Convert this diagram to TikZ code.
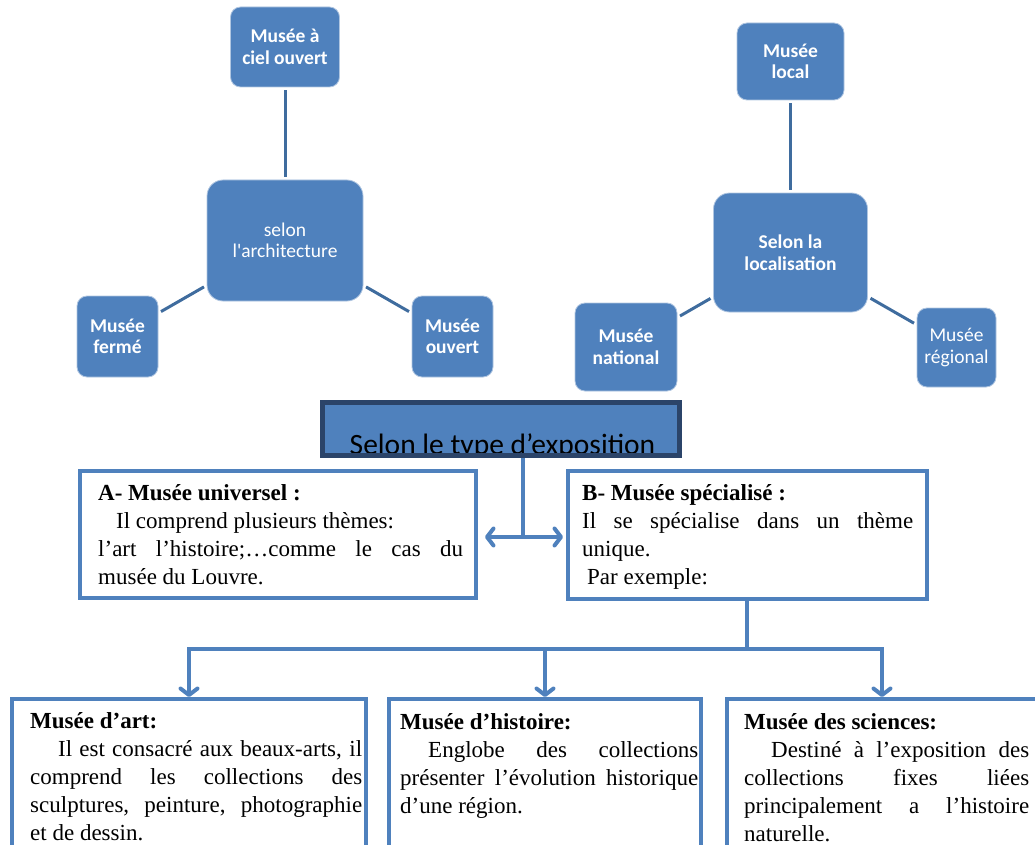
\documentclass[tikz,border=0pt]{standalone}
\usepackage{fontspec}
\setmainfont{Liberation Serif}
\newfontfamily\calfont{Carlito}
\usetikzlibrary{arrows.meta}

\definecolor{accent}{HTML}{4F81BD}
\definecolor{spokec}{HTML}{3F6C9E}
\definecolor{navy}{HTML}{2B4469}

\tikzset{
  tile/.style={fill=accent, draw=white!55!accent, line width=0.8pt, text=white,
    align=center, inner sep=0pt, rounded corners=10pt,
    font=\calfont\fontsize{19.5pt}{21.5pt}\selectfont\bfseries},
  plaintile/.style={tile, font=\calfont\fontsize{19.5pt}{21.5pt}\selectfont},
  hubtile/.style={tile, rounded corners=16pt},
  plainhub/.style={plaintile, rounded corners=16pt},
  spoke/.style={draw=spokec, line width=3pt, shorten <=3pt, shorten >=3pt},
  titlebox/.style={fill=accent, draw=navy, line width=5pt, inner sep=0pt},
  panel/.style={draw=accent, line width=4pt, fill=white, inner sep=0pt},
  flow/.style={draw=accent, line width=4pt, line join=miter,
    >={Straight Barb[length=6.5pt,width=17pt,round]}},
  % anchored on the baseline of the last line of the block
  txt/.style={anchor=base west, inner sep=0pt, align=left,
    font=\fontsize{23pt}{28pt}\selectfont},
}

\begin{document}
\begin{tikzpicture}[x=1pt,y=-1pt]
\useasboundingbox (0,0) rectangle (1035,845);
\clip (0,0) rectangle (1035,845);

% --- classification by architecture
\node[tile, minimum width=109pt, minimum height=80pt] (ciel) at (285,47) {Musée à\\ciel ouvert};
\node[plainhub, minimum width=156pt, minimum height=121pt] (archi) at (285,240.5) {selon\\l'architecture};
\node[tile, minimum width=81pt, minimum height=81pt] (ferme) at (117.5,336.5) {Musée\\fermé};
\node[tile, minimum width=81pt, minimum height=81pt] (ouvert) at (452.5,336.5) {Musée\\ouvert};
\draw[spoke] (archi) -- (ciel);
\draw[spoke] (archi) -- (ferme);
\draw[spoke] (archi) -- (ouvert);

% --- classification by location
\node[tile, minimum width=107pt, minimum height=77pt] (local) at (790.5,61.5) {Musée\\local};
\node[hubtile, minimum width=154pt, minimum height=119pt] (loca) at (790.5,252.5) {Selon la\\localisation};
\node[tile, minimum width=102pt, minimum height=88pt] (natl) at (626,347) {Musée\\national};
\node[plaintile, minimum width=79pt, minimum height=79pt] (regl) at (956.5,347.5) {Musée\\régional};
\draw[spoke] (loca) -- (local);
\draw[spoke] (loca) -- (natl);
\draw[spoke] (loca) -- (regl);

% --- classification by type of exhibition (caption cut off by the box)
\node[titlebox, minimum width=357pt, minimum height=53pt] (title) at (501,429) {};
\begin{scope}
  \clip (325,405) rectangle (677,452);
  \node[anchor=base, inner sep=0pt, font=\calfont\fontsize{29.5pt}{31pt}\selectfont]
    (titletext) at (502.5,454) {Selon le type d’exposition};
\end{scope}

\node[panel, minimum width=396pt, minimum height=127pt] (A) at (278,534.5) {};
\node[panel, minimum width=359.5pt, minimum height=128pt] (B) at (747.25,535) {};

\coordinate (split) at (523,537);
\draw[flow] (title.south -| split) -- (split);
\draw[flow, <->, shorten <=7pt, shorten >=2.5pt] (A.east |- split) -- (B.west |- split);

\node[txt] (Atext) at (98,584) {\textbf{A- Musée universel :}\\
  \hspace*{18pt}Il comprend plusieurs thèmes:\\
  \makebox[365pt][s]{l’art l’histoire;…comme le cas du}\\
  musée du Louvre.};
\node[txt] (Btext) at (582,584) {\textbf{B- Musée spécialisé :}\\
  \makebox[331pt][s]{Il se spécialise dans un thème}\\
  unique.\\
  \hspace*{5pt}Par exemple:};

% --- specialised museums
\node[panel, minimum width=354pt, minimum height=181pt] (art) at (189,789.5) {};
\node[panel, minimum width=312pt, minimum height=181pt] (hist) at (545,789.5) {};
\node[panel, minimum width=310pt, minimum height=181pt] (sci) at (882,789.5) {};

\coordinate (hub) at (747.25,649);
\draw[flow] (B.south) -- (hub);
\draw[flow, ->] (hub) -| (art.north);
\draw[flow, ->] (hub) -| (hist.north);
\draw[flow, ->] (hub) -| (sci.north);

\node[txt] (arttext) at (30,840) {\textbf{Musée d’art:}\\
  \hspace*{28pt}\makebox[304pt][s]{Il est consacré aux beaux-arts, il}\\
  \makebox[332pt][s]{comprend les collections des}\\
  \makebox[332pt][s]{sculptures, peinture, photographie}\\
  et de dessin.};
\node[txt] (histtext) at (400,813) {\textbf{Musée d’histoire:}\\
  \hspace*{28pt}\makebox[270pt][s]{Englobe des collections}\\
  \makebox[298pt][s]{présenter l’évolution historique}\\
  d’une région.};
\node[txt] (scitext) at (744,841) {\textbf{Musée des sciences:}\\
  \hspace*{27pt}\makebox[258pt][s]{Destiné à l’exposition des}\\
  \makebox[285pt][s]{collections fixes liées}\\
  \makebox[285pt][s]{principalement a l’histoire}\\
  naturelle.};
\end{tikzpicture}
\end{document}
